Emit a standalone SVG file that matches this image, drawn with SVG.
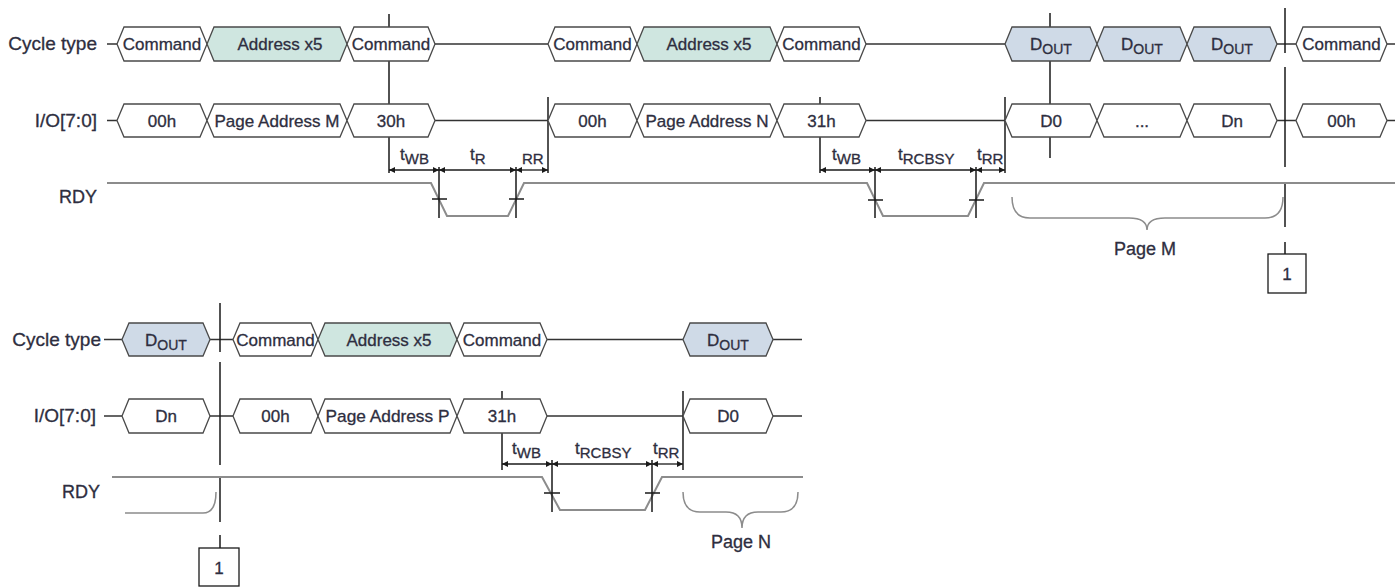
<svg xmlns="http://www.w3.org/2000/svg" width="1400" height="587" viewBox="0 0 1400 587">
<defs>
<style>
.hx{fill:#fff;stroke:#4a4a4a;stroke-width:1.3}
.addr{fill:#cfe6e0}
.dout{fill:#cfdae7}
.sig{stroke:#333;stroke-width:1.3;fill:none}
.ref{stroke:#1a1a1a;stroke-width:1.5;fill:none}
.rdy{stroke:#8c8c8c;stroke-width:2;fill:none}
.brace{stroke:#8c8c8c;stroke-width:1.5;fill:none}
.arr{stroke:#1a1a1a;stroke-width:1.3;fill:none;marker-start:url(#ah);marker-end:url(#ah)}
.t{font-family:"Liberation Sans",Arial,sans-serif;fill:#2e2e40;stroke:#2e2e40;stroke-width:0.3}
.lbl{font-size:19px;text-anchor:end}
.hxt{font-size:17px;text-anchor:middle}
.tim{font-size:17px}
.sub{font-size:15px}
.box{fill:#fff;stroke:#1a1a1a;stroke-width:1.3}
</style>
<marker id="ah" viewBox="0 0 10 10" refX="10" refY="5" markerWidth="8" markerHeight="6" orient="auto-start-reverse" markerUnits="userSpaceOnUse"><path d="M0,0 L10,5 L0,10 z" fill="#1a1a1a"/></marker>
</defs>
<rect width="1400" height="587" fill="#fff"/>

<g id="labels" class="t">
<text class="lbl" x="97" y="50">Cycle type</text>
<text class="lbl" x="97" y="127">I/O[7:0]</text>
<text class="lbl" x="97" y="203" style="font-size:18px">RDY</text>
<text class="lbl" x="101" y="346">Cycle type</text>
<text class="lbl" x="96" y="422">I/O[7:0]</text>
<text class="lbl" x="100" y="498" style="font-size:18px">RDY</text>
</g>

<g id="connectors">
<path class="sig" d="M107,44H117 M435,44H548 M866,44H1005 M1277,44H1296 M1387,44H1395"/>
<path class="sig" d="M107,120.5H117 M435,120.5H548 M866,120.5H1005 M1277,120.5H1296 M1387,120.5H1395"/>
<path class="sig" d="M104,339.5H122 M210,339.5H233 M547,339.5H683 M773,339.5H802"/>
<path class="sig" d="M104,416H122 M210,416H233 M547,416H683 M773,416H802"/>
<path class="ref" d="M389,14V27 M389,61V104 M389,137V173"/>
<path class="ref" d="M548,97V173"/>
<path class="ref" d="M820,97V104 M820,137V173"/>
<path class="ref" d="M1005,97V173"/>
<path class="ref" d="M1050,13V27 M1050,61V104 M1050,137V158"/>
<path class="ref" d="M1285,8V53 M1285,67V167 M1285,182V227 M1285,242V254"/>
<path class="ref" d="M220,303V352 M220,362V465 M220,477V522 M220,535V548"/>
<path class="ref" d="M502,391V399 M502,433V470"/>
<path class="ref" d="M683,391V470"/>
<polyline class="rdy" points="107,183 431,183 447,216 508,216 524,183 867,183 883,216 968,216 984,183 1395,183"/>
<polyline class="rdy" points="112,477 542,477 560,510 645,510 662,477 803,477"/>
<path class="ref" d="M439,167V218 M432,199H447 M516,167V218 M509,199H524"/>
<path class="ref" d="M875,167V218 M868,200H883 M976,167V218 M969,200H984"/>
<path class="ref" d="M552,460V512 M544,493H560 M652,460V512 M645,493H660"/>
<line class="arr" x1="389" y1="170" x2="439" y2="170"/>
<line class="arr" x1="439" y1="170" x2="516" y2="170"/>
<line class="arr" x1="516" y1="170" x2="548" y2="170"/>
<line class="arr" x1="820" y1="170" x2="875" y2="170"/>
<line class="arr" x1="875" y1="170" x2="976" y2="170"/>
<line class="arr" x1="976" y1="170" x2="1005" y2="170"/>
<line class="arr" x1="502" y1="464" x2="552" y2="464"/>
<line class="arr" x1="552" y1="464" x2="652" y2="464"/>
<line class="arr" x1="652" y1="464" x2="683" y2="464"/>
<path class="brace" d="M1012,197 Q1012,218 1030,218 L1129,218 Q1147,218 1147,230 Q1147,218 1165,218 L1265,218 Q1283,218 1283,197"/>
<path class="brace" d="M125,513 L203,513 Q216,513 216,492"/>
<path class="brace" d="M683,492 Q683,512 700,512 L726,512 Q742,512 742,528 Q742,512 758,512 L781,512 Q798,512 798,492"/>
</g>

<g id="timing-labels" class="t">
<text class="tim" x="400" y="160">t<tspan class="sub" dy="4">WB</tspan></text>
<text class="tim" x="470" y="160">t<tspan class="sub" dy="4">R</tspan></text>
<text class="sub" x="522" y="164">RR</text>
<text class="tim" x="832" y="160">t<tspan class="sub" dy="4">WB</tspan></text>
<text class="tim" x="898" y="160">t<tspan class="sub" dy="4">RCBSY</tspan></text>
<text class="tim" x="977" y="160">t<tspan class="sub" dy="4">RR</tspan></text>
<text class="tim" x="512" y="454">t<tspan class="sub" dy="4">WB</tspan></text>
<text class="tim" x="575" y="454">t<tspan class="sub" dy="4">RCBSY</tspan></text>
<text class="tim" x="653" y="454">t<tspan class="sub" dy="4">RR</tspan></text>
<text class="tim" x="1145" y="255" text-anchor="middle" style="font-size:18px">Page M</text>
<text class="tim" x="741" y="548" text-anchor="middle" style="font-size:18px">Page N</text>
</g>

<g id="c1"><polygon class="hx" points="117,44 124,27 200,27 207,44 200,61 124,61"/><text class="t hxt" x="162" y="50">Command</text></g>
<g id="c2"><polygon class="hx addr" points="207,44 214,27 340,27 347,44 340,61 214,61"/><text class="t hxt" x="280" y="50">Address x5</text></g>
<g id="c3"><polygon class="hx" points="347,44 354,27 428,27 435,44 428,61 354,61"/><text class="t hxt" x="391" y="50">Command</text></g>
<g id="c4"><polygon class="hx" points="548,44 555,27 630,27 637,44 630,61 555,61"/><text class="t hxt" x="592.5" y="50">Command</text></g>
<g id="c5"><polygon class="hx addr" points="637,44 644,27 770,27 777,44 770,61 644,61"/><text class="t hxt" x="709" y="50">Address x5</text></g>
<g id="c6"><polygon class="hx" points="777,44 784,27 859,27 866,44 859,61 784,61"/><text class="t hxt" x="821.5" y="50">Command</text></g>
<g id="c7"><polygon class="hx dout" points="1005,44 1012,27 1090,27 1097,44 1090,61 1012,61"/><text class="t hxt" x="1051" y="50">D<tspan style="font-size:14px" dy="4">OUT</tspan></text></g>
<g id="c8"><polygon class="hx dout" points="1097,44 1104,27 1180,27 1187,44 1180,61 1104,61"/><text class="t hxt" x="1142" y="50">D<tspan style="font-size:14px" dy="4">OUT</tspan></text></g>
<g id="c9"><polygon class="hx dout" points="1187,44 1194,27 1270,27 1277,44 1270,61 1194,61"/><text class="t hxt" x="1232" y="50">D<tspan style="font-size:14px" dy="4">OUT</tspan></text></g>
<g id="c10"><polygon class="hx" points="1296,44 1303,27 1380,27 1387,44 1380,61 1303,61"/><text class="t hxt" x="1341.5" y="50">Command</text></g>

<g id="d1"><polygon class="hx" points="117,120.5 124,104 200,104 207,120.5 200,137 124,137"/><text class="t hxt" x="162" y="126.5">00h</text></g>
<g id="d2"><polygon class="hx" points="207,120.5 214,104 340,104 347,120.5 340,137 214,137"/><text class="t hxt" x="277" y="126.5" textLength="125" lengthAdjust="spacingAndGlyphs">Page Address M</text></g>
<g id="d3"><polygon class="hx" points="347,120.5 354,104 428,104 435,120.5 428,137 354,137"/><text class="t hxt" x="391" y="126.5">30h</text></g>
<g id="d4"><polygon class="hx" points="548,120.5 555,104 630,104 637,120.5 630,137 555,137"/><text class="t hxt" x="592.5" y="126.5">00h</text></g>
<g id="d5"><polygon class="hx" points="637,120.5 644,104 770,104 777,120.5 770,137 644,137"/><text class="t hxt" x="707" y="126.5" textLength="123" lengthAdjust="spacingAndGlyphs">Page Address N</text></g>
<g id="d6"><polygon class="hx" points="777,120.5 784,104 859,104 866,120.5 859,137 784,137"/><text class="t hxt" x="821.5" y="126.5">31h</text></g>
<g id="d7"><polygon class="hx" points="1005,120.5 1012,104 1090,104 1097,120.5 1090,137 1012,137"/><text class="t hxt" x="1051" y="126.5">D0</text></g>
<g id="d8"><polygon class="hx" points="1097,120.5 1104,104 1180,104 1187,120.5 1180,137 1104,137"/><text class="t hxt" x="1142" y="126.5">...</text></g>
<g id="d9"><polygon class="hx" points="1187,120.5 1194,104 1270,104 1277,120.5 1270,137 1194,137"/><text class="t hxt" x="1232" y="126.5">Dn</text></g>
<g id="d10"><polygon class="hx" points="1296,120.5 1303,104 1380,104 1387,120.5 1380,137 1303,137"/><text class="t hxt" x="1341.5" y="126.5">00h</text></g>

<g id="e1"><polygon class="hx dout" points="122,339.5 129,323 203,323 210,339.5 203,356 129,356"/><text class="t hxt" x="166" y="345.5">D<tspan style="font-size:14px" dy="4">OUT</tspan></text></g>
<g id="e2"><polygon class="hx" points="233,339.5 240,323 311,323 318,339.5 311,356 240,356"/><text class="t hxt" x="275.5" y="345.5">Command</text></g>
<g id="e3"><polygon class="hx addr" points="318,339.5 325,323 450,323 457,339.5 450,356 325,356"/><text class="t hxt" x="389" y="345.5">Address x5</text></g>
<g id="e4"><polygon class="hx" points="457,339.5 464,323 540,323 547,339.5 540,356 464,356"/><text class="t hxt" x="502" y="345.5">Command</text></g>
<g id="e5"><polygon class="hx dout" points="683,339.5 690,323 766,323 773,339.5 766,356 690,356"/><text class="t hxt" x="728" y="345.5">D<tspan style="font-size:14px" dy="4">OUT</tspan></text></g>

<g id="f1"><polygon class="hx" points="122,416 129,399 203,399 210,416 203,433 129,433"/><text class="t hxt" x="166" y="422">Dn</text></g>
<g id="f2"><polygon class="hx" points="233,416 240,399 311,399 318,416 311,433 240,433"/><text class="t hxt" x="275.5" y="422">00h</text></g>
<g id="f3"><polygon class="hx" points="318,416 325,399 450,399 457,416 450,433 325,433"/><text class="t hxt" x="387.5" y="422" textLength="124" lengthAdjust="spacingAndGlyphs">Page Address P</text></g>
<g id="f4"><polygon class="hx" points="457,416 464,399 540,399 547,416 540,433 464,433"/><text class="t hxt" x="502" y="422">31h</text></g>
<g id="f5"><polygon class="hx" points="683,416 690,399 766,399 773,416 766,433 690,433"/><text class="t hxt" x="728" y="422">D0</text></g>

<g id="box1-top"><rect class="box" x="1268" y="254" width="38" height="39"/><text class="t hxt" x="1287" y="280">1</text></g>
<g id="box1-bottom"><rect class="box" x="199" y="548" width="40" height="38"/><text class="t hxt" x="219" y="574">1</text></g>
</svg>
